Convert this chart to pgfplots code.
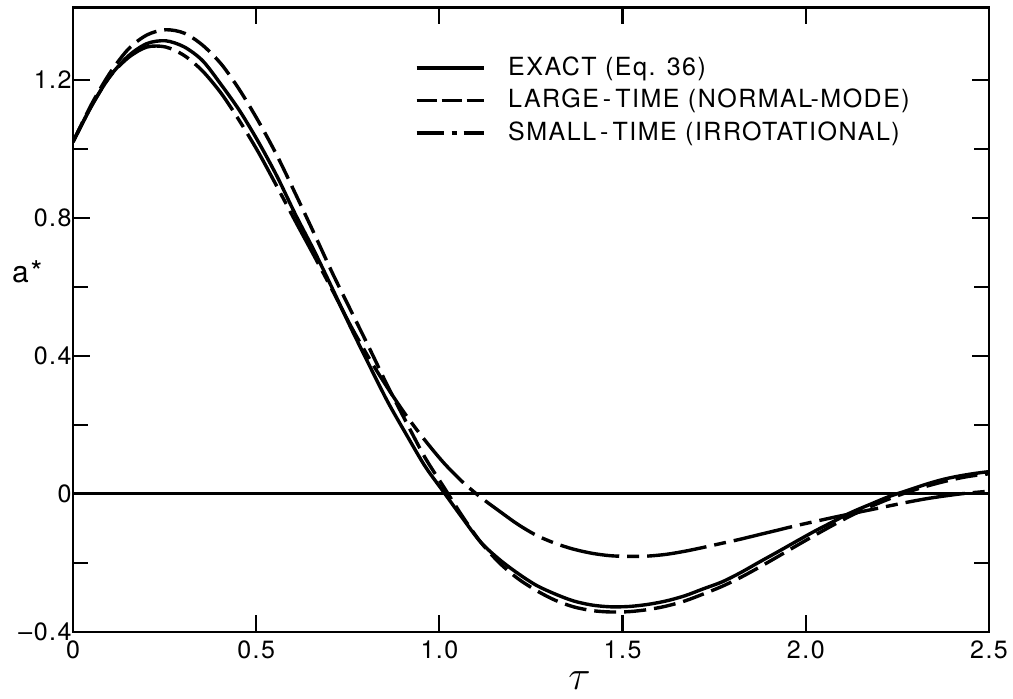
\documentclass[border=0pt]{standalone}
\usepackage{fontspec}
\setmainfont{TeX Gyre Heros}[LetterSpace=6]
\usepackage{pgfplots}
\usepackage{pgfplotstable}
\pgfplotsset{compat=1.18}
\pgfplotstableread{
t exact large small
0 1.02 1.02 1.02
0.051 1.125 1.13 1.125
0.101 1.21 1.22 1.21
0.152 1.27 1.29 1.265
0.202 1.305 1.33 1.295
0.253 1.313 1.345 1.295
0.304 1.295 1.335 1.27
0.354 1.255 1.30 1.225
0.405 1.185 1.245 1.16
0.455 1.11 1.17 1.08
0.506 1.02 1.08 0.99
0.557 0.92 0.98 0.89
0.607 0.81 0.87 0.79
0.658 0.705 0.755 0.69
0.708 0.595 0.64 0.59
0.759 0.48 0.53 0.485
0.81 0.37 0.42 0.39
0.86 0.265 0.31 0.305
0.911 0.17 0.205 0.225
0.961 0.08 0.105 0.155
1.012 0.005 0.02 0.09
1.063 -0.07 -0.065 0.035
1.113 -0.14 -0.14 -0.01
1.164 -0.19 -0.2 -0.05
1.214 -0.23 -0.245 -0.088
1.265 -0.265 -0.28 -0.12
1.316 -0.29 -0.308 -0.143
1.366 -0.31 -0.327 -0.16
1.417 -0.322 -0.338 -0.172
1.467 -0.327 -0.342 -0.179
1.518 -0.326 -0.341 -0.181
1.569 -0.32 -0.335 -0.18
1.619 -0.31 -0.325 -0.175
1.67 -0.295 -0.31 -0.166
1.72 -0.275 -0.29 -0.155
1.771 -0.255 -0.268 -0.143
1.822 -0.228 -0.242 -0.131
1.872 -0.198 -0.213 -0.118
1.923 -0.168 -0.182 -0.105
1.973 -0.138 -0.151 -0.092
2.024 -0.108 -0.12 -0.08
2.075 -0.08 -0.09 -0.068
2.125 -0.053 -0.062 -0.057
2.176 -0.03 -0.037 -0.046
2.226 -0.008 -0.015 -0.035
2.277 0.01 0.005 -0.024
2.328 0.028 0.022 -0.014
2.378 0.043 0.036 -0.006
2.429 0.054 0.048 0.001
2.479 0.062 0.056 0.006
2.53 0.068 0.061 0.01
}\datatable
\begin{document}
\begin{tikzpicture}
\begin{axis}[
  at={(0,0)}, anchor=south west,
  scale only axis, width=458pt, height=312.35pt,
  xmin=0, xmax=2.5, ymin=-0.4, ymax=1.41,
  xtick={0,0.5,1,1.5,2,2.5},
  xticklabels={0,0.5,1.0,1.5,2.0,2.5},
  ytick={-0.4,0,0.4,0.8,1.2},
  yticklabels={\textendash0.4,0,0.4,0.8,1.2},
  minor ytick={-0.2,0.2,0.6,1.0},
  major tick length=8.5pt, minor tick length=7.5pt,
  tick style={black, line width=1.1pt},
  axis line style={line width=1.3pt},
  tick label style={font=\fontsize{12.5}{14}\selectfont},
  xticklabel style={inner sep=0pt, yshift=-4pt},
  yticklabel style={inner sep=0pt, xshift=-0.5pt},
  every y tick label/.append style={},
  /pgf/number format/assume math mode=true,
  xlabel={\fontsize{22}{22}\selectfont$\tau$},
  xlabel style={at={(axis description cs:0.553,-0.077)}, anchor=center},
  ylabel={a*},
  ylabel style={at={(axis description cs:-0.05,0.576)}, rotate=-90, anchor=center, font=\fontsize{15}{15}\selectfont},
  legend style={draw=none, fill=none, at={(0.3734,0.922)}, anchor=north west,
    inner sep=0pt, outer sep=0pt, row sep=4.25pt, column sep=11.5pt,
    font=\fontsize{12.5}{15}\selectfont,
    nodes={inner sep=0pt, text height=9.5pt, text depth=2.5pt}},
  legend cell align=left,
  legend image code/.code={\draw[#1] (0pt,0pt) -- (33.5pt,0pt);},
  yticklabel style={text depth=0pt},
  extra description/.code={},
]
\addplot[black, line width=1.5pt, forget plot] coordinates {(0,0) (2.5,0)};
\addplot[black, line width=1.7pt, smooth, forget plot] table[x=t, y=exact] {\datatable};
\addplot[black, line width=1.7pt, smooth, dash pattern=on 11pt off 4pt, forget plot] table[x=t, y=large] {\datatable};
\addplot[black, line width=1.7pt, smooth, dash pattern=on 30pt off 4pt on 6pt off 4pt, forget plot] table[x=t, y=small] {\datatable};
\addlegendimage{black, line width=1.6pt}
\addlegendimage{black, line width=1.6pt, dash pattern=on 10pt off 2.5pt}
\addlegendimage{black, line width=1.6pt, dash pattern=on 13.5pt off 4pt on 2.5pt off 3.5pt}
\legend{EXACT (Eq. 36), LARGE\kern2pt-\kern2pt TIME (NORMAL-MODE), SMALL\kern2pt-\kern2pt TIME (IRROTATIONAL)}
\end{axis}
\pgfresetboundingbox
\path (-36.5pt,-33pt) rectangle (470pt,316pt);
\end{tikzpicture}
\end{document}
